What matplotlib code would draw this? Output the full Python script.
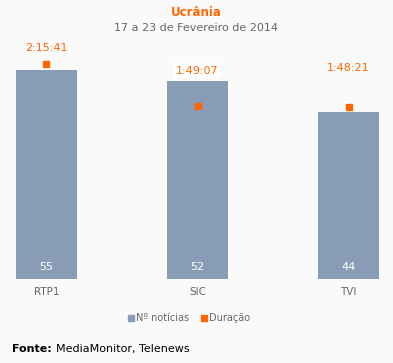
import matplotlib
matplotlib.use("Agg")
import matplotlib.pyplot as plt
from matplotlib.lines import Line2D

categories = ["RTP1", "SIC", "TVI"]
noticias = [55, 52, 44]
duracao_labels = ["2:15:41", "1:49:07", "1:48:21"]

def to_seconds(s):
    h, m, sec = (int(p) for p in s.split(":"))
    return h * 3600 + m * 60 + sec

duracao = [to_seconds(s) for s in duracao_labels]

W, H = 393, 363
BG = "#fafafa"
BAR = "#889db5"
ORANGE = "#ff6600"
GRAY = "#666666"

plt.rcParams['font.family'] = ['DejaVu Sans']
fig = plt.figure(figsize=(W / 100, H / 100), dpi=100, facecolor=BG)

left_px, right_px = 10, 385
bottom_px, top_px = 279, 40
ax = fig.add_axes([left_px / W, 1 - bottom_px / H, (right_px - left_px) / W, (bottom_px - top_px) / H])
ax.set_facecolor(BG)
ax.patch.set_alpha(0)
x = list(range(len(categories)))
ax.set_xlim(-0.2417, 2.2417)
ax.set_ylim(0, (bottom_px - top_px) / 3.8)
ax.bar(x, noticias, width=0.404, color=BAR, zorder=2)
for xi, v in zip(x, noticias):
    ax.annotate(str(v), (xi, 0), xytext=(0, 8.6), textcoords="offset points",
                ha="center", va="center", color="white", fontsize=8)
for s in ax.spines.values():
    s.set_visible(False)
ax.set_yticks([])
ax.set_xticks(x)
ax.set_xticklabels(categories, color=GRAY, fontsize=7.5)
ax.tick_params(axis="x", length=0, pad=6)

ax2 = ax.twinx()
ax2.set_ylim(0, (bottom_px - top_px) / 0.02641)
ax2.set_yticks([])
for s in ax2.spines.values():
    s.set_visible(False)
ax2.plot(x, duracao, linestyle="none", marker="s", markersize=5, color=ORANGE, zorder=3)
label_offsets = [11.6, 25.6, 28.5]
for i, (xi, v, lab) in enumerate(zip(x, duracao, duracao_labels)):
    bbox = dict(boxstyle="square,pad=0.2", fc="white", ec="none") if i == 1 else None
    ax2.annotate(lab, (xi, v), xytext=(0, label_offsets[i]), textcoords="offset points",
                 ha="center", va="center", color=ORANGE, fontsize=8, bbox=bbox)

fig.text(0.5, 1 - 13 / H, "Ucrânia", ha="center", va="center", color=ORANGE,
         fontsize=8.5, fontweight="bold")
fig.text(0.5, 1 - 28 / H, "17 a 23 de Fevereiro de 2014", ha="center", va="center",
         color=GRAY, fontsize=8)

handles = [Line2D([], [], linestyle="none", marker="s", markersize=5, color=BAR),
           Line2D([], [], linestyle="none", marker="s", markersize=5, color=ORANGE)]
fig.legend(handles, ["Nº notícias", "Duração"], loc="center", bbox_to_anchor=(189 / W, 1 - 318 / H),
           ncol=2, frameon=False, fontsize=7, labelcolor=GRAY, handlelength=0.6,
           handletextpad=0.2, columnspacing=1.2)

t1 = fig.text(12 / W, 1 - 349 / H, "Fonte:", ha="left", va="center", fontsize=8,
              color="black", fontweight="bold")
plt.annotate("MediaMonitor, Telenews", xy=(1, 0.5), xycoords=t1, xytext=(3, 0),
             textcoords="offset points", ha="left", va="center",
             fontsize=8, color="black", annotation_clip=False)

fig.savefig("out.png", dpi=100, facecolor=BG)
